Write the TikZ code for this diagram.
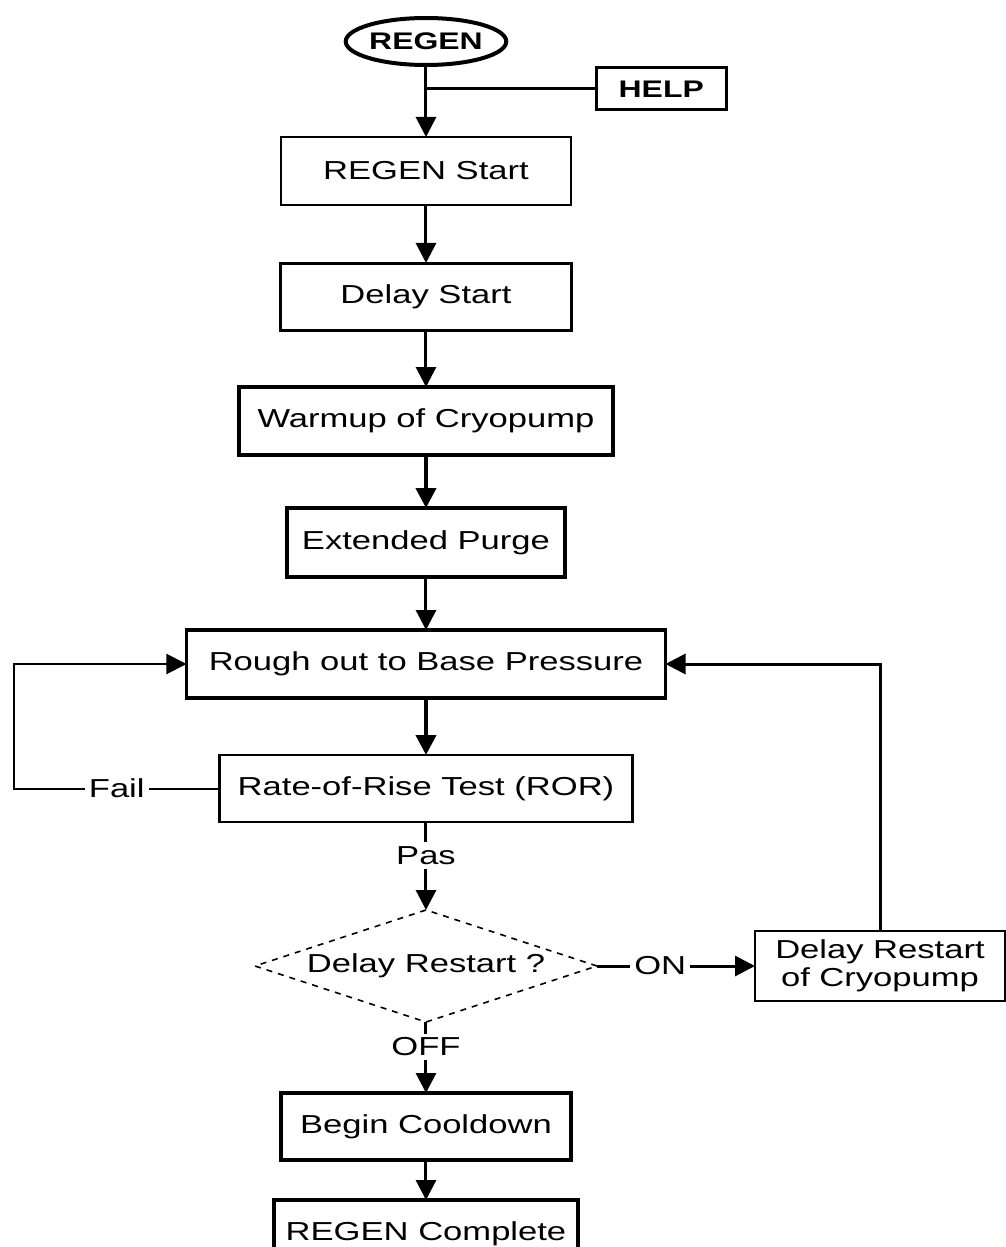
\documentclass[tikz,border=0pt]{standalone}
\usepackage{fontspec}
\setmainfont{Liberation Sans}[FakeStretch=1.33]
\usetikzlibrary{shapes.geometric, arrows.meta, positioning, calc}

\begin{document}
\begin{tikzpicture}[
    font=\fontsize{13pt}{14pt}\selectfont,
    box/.style={rectangle, draw=black, line width=1pt, minimum height=34pt, minimum width=145pt, align=center, inner sep=2pt, outer sep=0pt},
    thickbox/.style={box, line width=2pt},
    term/.style={ellipse, draw=black, line width=2pt, minimum width=79pt, minimum height=23.5pt, inner sep=0pt, outer sep=0pt, font=\fontsize{12pt}{13pt}\selectfont\bfseries},
    decision/.style={diamond, draw=black, dashed, line width=0.8pt, aspect=3.05, minimum width=171pt, minimum height=56pt, inner sep=0pt, outer sep=0pt},
    arr/.style={-{Triangle[width=10pt, length=10pt]}, line width=1.5pt},
    line/.style={line width=1.5pt},
    lbl/.style={fill=white, inner sep=2pt}
]
\node[term] (regen) {REGEN};
\useasboundingbox ($(regen.center)+(-213pt,20.75pt)$) rectangle ($(regen.center)+(290pt,-602.75pt)$);
\node[box, line width=1.5pt, minimum width=65pt, minimum height=21pt, font=\fontsize{12pt}{13pt}\selectfont\bfseries, below right=13.25pt and 45pt of regen.east, anchor=north west] (help) {HELP};
\node[box, below=36pt of regen] (start) {REGEN Start};
\node[box, line width=1.5pt, minimum height=33.5pt, below=29pt of start] (delaystart) {Delay Start};
\node[thickbox, minimum width=186.5pt, below=28.5pt of delaystart] (warmup) {Warmup of Cryopump};
\node[thickbox, minimum width=138.5pt, minimum height=34.5pt, below=26.5pt of warmup] (purge) {Extended Purge};
\node[box, line width=1.6pt, minimum width=239.5pt, below=26.5pt of purge] (rough) {Rough out to Base Pressure};
\node[box, line width=1.2pt, minimum width=206.5pt, minimum height=33.5pt, below=28.5pt of rough] (ror) {Rate-of-Rise Test (ROR)};
\node[decision, below=44pt of ror] (decide) {Delay Restart ?};
\node[box, minimum width=125pt, minimum height=35pt, right=79pt of decide] (restart) {Delay Restart\\of Cryopump};
\node[thickbox, minimum height=33.5pt, below=35.5pt of decide] (cooldown) {Begin Cooldown};
\node[thickbox, minimum width=151.5pt, below=20pt of cooldown] (complete) {REGEN Complete};
\coordinate (failturn) at ($(ror.west)+(-102.75pt,0)$);

\draw[arr] (regen) -- (start);
\draw[line] (help.west) -- (help.west -| regen.south);
\draw[arr] (start) -- (delaystart);
\draw[arr] (delaystart) -- (warmup);
\draw[arr, line width=2pt] (warmup) -- (purge);
\draw[arr] (purge) -- (rough);
\draw[arr, line width=2pt] (rough) -- (ror);
\draw[arr, line width=1pt] (ror.west) -- node[lbl, pos=0.5] {Fail} (failturn) |- (rough.west);
\draw[arr] (ror) -- node[lbl, pos=0.38] {Pas} (decide);
\draw[arr] (decide) -- node[lbl, pos=0.4] {ON} (restart);
\draw[arr] (restart.north) |- (rough.east);
\draw[arr] (decide) -- node[lbl, pos=0.35] {OFF} (cooldown);
\draw[arr] (cooldown) -- (complete);
\end{tikzpicture}
\end{document}
